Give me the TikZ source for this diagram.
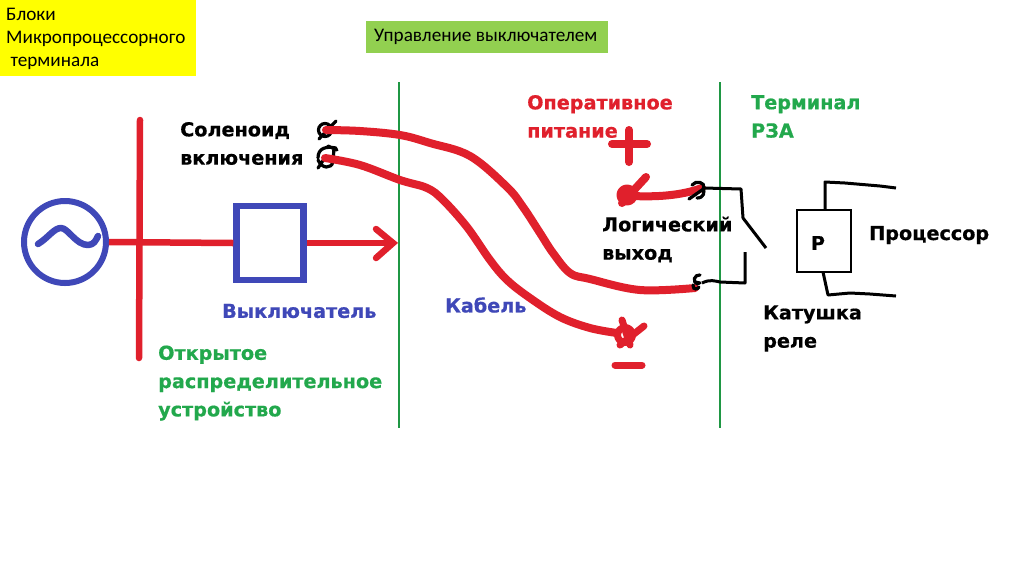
\documentclass[tikz,border=0pt]{standalone}
\usepackage{fontspec}
\setmainfont{Carlito}
\newfontfamily\hand{DejaVu Sans Bold}[FakeBold=0.6]
\definecolor{rd}{HTML}{E0202C}
\definecolor{bl}{HTML}{3F48B8}
\definecolor{gn}{HTML}{22A84C}
\definecolor{ye}{HTML}{FFFF00}
\definecolor{lg}{HTML}{92D050}
\tikzset{x=1pt,y=-1pt,
 lab/.style={font=\hand\fontsize{19.2}{28.3}\selectfont,align=left,anchor=west,inner sep=0pt},
 top/.style={font=\fontsize{19.2}{23}\selectfont,align=left,anchor=west,text=black,inner sep=0pt},
 wire/.style={line width=8pt,rd,line cap=round,line join=round},
 wire thin/.style={line width=6.5pt,rd,line cap=round,line join=round},
 thin wire/.style={line width=3pt,black,line join=round},
 term/.style={line width=3.2pt,black,line cap=round},
 div/.style={line width=2pt,gn!90!black}}
\begin{document}
\begin{tikzpicture}
\useasboundingbox (0,0) rectangle (1024,574);
\fill[white] (0,0) rectangle (1024,574);
% header boxes
\fill[ye] (0,0) rectangle (196,76);
\node[top] (hdr) at (6,39) {Блоки\\Микропроцессорного\\\ терминала};
\fill[lg] (366,21) rectangle (608,53);
\node[top] (ctl) at (374,37) {Управление выключателем};
% dividers
\coordinate (d1a) at (399,82); \coordinate (d1b) at (399,428);
\coordinate (d2a) at (720,82); \coordinate (d2b) at (720,428);
\draw[div] (d1a) -- (d1b);
\draw[div] (d2a) -- (d2b);
% generator
\node[circle,draw=bl,line width=6pt,minimum size=82pt,inner sep=0pt] (gen) at (65,242) {};
\draw[bl,line width=6.5pt,line cap=round,line join=round] (38,244) .. controls (48,238) and (54,228) .. (61,228) .. controls (68,228) and (76,245) .. (88,245) .. controls (94,245) and (96,240) .. (98,236);
% bus and line
\coordinate (busa) at (140,120); \coordinate (busb) at (139,358);
\draw[wire thin] (busa) -- (busb);
\node[rectangle,draw=bl,line width=6.5pt,minimum width=67pt,minimum height=74pt,inner sep=0pt] (brk) at (270,243) {};
\draw[wire thin,line cap=butt] (gen.east) -- (brk.west);
\coordinate (tip) at (393,243);
\draw[wire thin,line cap=butt] (brk.east) -- (tip);
\draw[wire thin,line join=miter] (376,229) -- (tip) -- (376,258);
% terminals
\coordinate (s1) at (326,130); \coordinate (s2) at (325,158);
\draw[term] (325,130) circle[radius=6.5pt] (319,139) -- (336,121);
\draw[term] (318,158) .. controls (318,148) and (326,146) .. (336,148) (318,160) .. controls (322,169) and (331,169) .. (333,162) (318,168) -- (326,156) (328,146) -- (337,150) (334,148) -- (333,162);
% cables
\draw[wire] plot[smooth,tension=0.6] coordinates {(s1) (360,131) (400,135) (430,143) (470,156) (507,187) (523,207) (540,233) (553,253) (570,273) (590,279) (640,290) (695,288)};
\draw[wire] plot[smooth,tension=0.6] coordinates {(s2) (360,165) (400,180) (427,188) (443,200) (467,227) (490,260) (507,280) (530,298) (560,317) (590,328) (617,333)};
% supply
\draw[wire] (612,144) -- (647,144);
\draw[wire] (629,130) -- (629,162);
\draw[wire,line width=7pt] (615,365) -- (642,365);
\draw[wire,line width=9pt] (627,195) circle[radius=6pt];
\draw[wire] (622,203) -- (646,177);
\draw[wire] (632,196) .. controls (655,197) and (680,196) .. (702,188);
\draw[wire,line width=7pt] (625,335) circle[radius=7.5pt];
\draw[wire,line width=7pt] (622,320) -- (630,345) (620,345) -- (644,326);
% contact terminals
\draw[term] (692,185) .. controls (696,180) and (705,182) .. (704,188) (697,198) .. controls (704,198) and (705,192) .. (703,188) (689,199) -- (702,190);
\draw[term] (698,284) .. controls (691,282) and (695,274) .. (700,275) (693,285) .. controls (693,291) and (698,289) .. (699,287) (695,282) -- (700,283);
% relay contact
\coordinate (k1) at (704,188); \coordinate (k2) at (702,283);
\draw[thin wire] (k1) -- (741,189) -- (743,218) -- (766,248);
\draw[thin wire] (k2) .. controls (710,279) and (715,281) .. (720,282) -- (745,283) -- (745,252);
% relay coil
\node[rectangle,draw=black,line width=2.5pt,minimum width=54pt,minimum height=62pt,inner sep=0pt] (coil) at (824,241) {};
\node[font=\hand\fontsize{19}{20}\selectfont,inner sep=0pt] (coilt) at (818,243) {Р};
\draw[thin wire] (825,210) -- (825,182) -- (845,183) -- (880,186) -- (896,188);
\draw[thin wire] (823,272) -- (828,295) -- (850,293) -- (870,294) -- (896,296);
% labels
\node[lab] (sol) at (180,143.5) {Соленоид\\включения};
\node[lab,text=bl] (brkl) at (222,311) {Выключатель};
\node[lab,text=gn] (oru) at (158,383) {Открытое\\распределительное\\устройство};
\node[lab,text=bl] (cab) at (445,305) {Кабель};
\node[lab,text=rd] (pow) at (527,116.5) {Оперативное\\питание};
\node[lab,text=gn] (rza) at (751,116.5) {Терминал\\РЗА};
\node[lab] (log) at (602,239.5) {Логический\\выход};
\node[lab] (kat) at (763,328.5) {Катушка\\реле};
\node[lab] (proc) at (869,235) {Процессор};
\end{tikzpicture}
\end{document}
